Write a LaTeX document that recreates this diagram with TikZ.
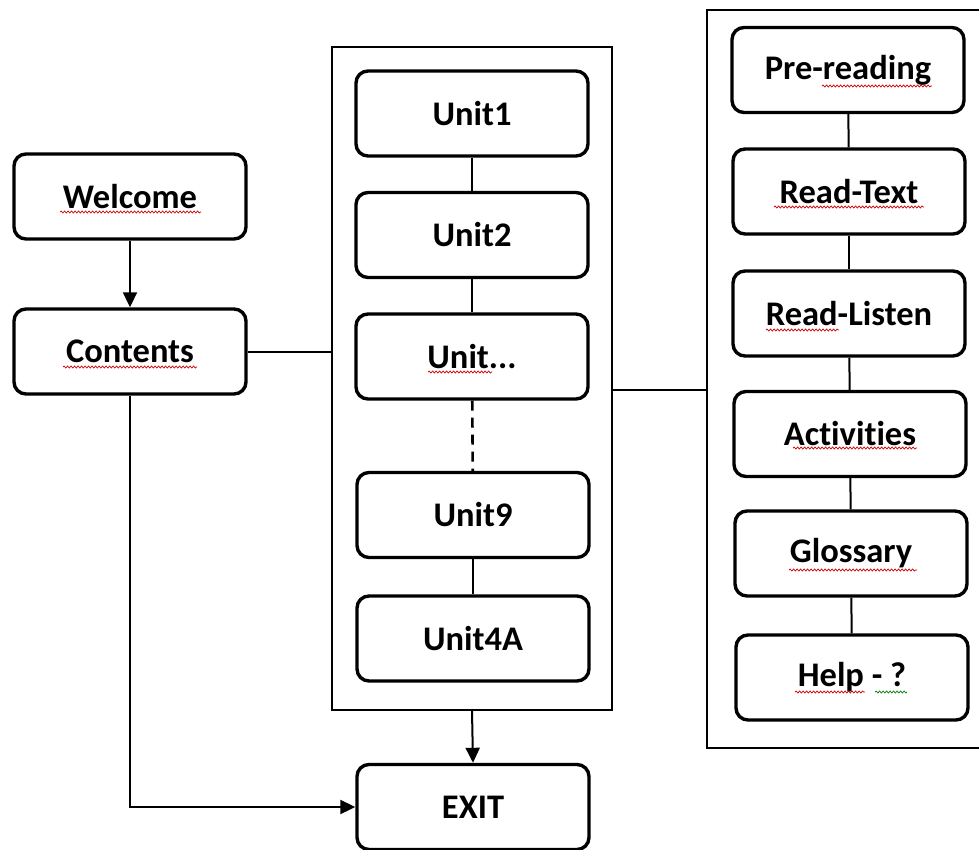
\documentclass[tikz,border=0pt]{standalone}
\usepackage{fontspec}
\setmainfont{Carlito}[Ligatures=NoCommon]
\usetikzlibrary{arrows.meta,decorations.pathmorphing}
\begin{document}
\begin{tikzpicture}[x=1pt,y=-1pt,
  box/.style={draw, line width=3.4pt, rounded corners=12pt, minimum width=232pt, minimum height=85pt,
    inner sep=0pt, fill=white, font=\fontsize{34.5}{40}\selectfont\bfseries},
  contain/.style={draw, line width=2.3pt},
  link/.style={line width=2pt},
  arr/.style={link, -{Triangle[length=15pt,width=14pt]}},
  dashlink/.style={line width=2.6pt, dash pattern=on 10pt off 7pt},
  squig/.style={red!80!black, line width=0.7pt, decorate, decoration={snake, segment length=3.5pt, amplitude=1pt}},
  squigg/.style={squig, green!50!black}]
\useasboundingbox (0,0) rectangle (979,850);

% containers
\node[contain, minimum width=280pt, minimum height=663pt, inner sep=0pt] (mid) at (472,378.5) {};
\draw[contain] (979,10) -- (707,10) -- (707,748) -- (979,748);
\coordinate (rin) at (707,390);

% left column
\node[box] (wel) at (130,196.5) {Welcome};
\node[box] (con) at (130,351.5) {Contents};

% units
\node[box] (u1) at (472,113.5) {Unit1};
\node[box] (u2) at (472,235) {Unit2};
\node[box] (u3) at (472,356.5) {Unit...};
\node[box] (u9) at (473,515) {Unit9};
\node[box] (u4) at (473,638.5) {Unit4A};
\node[box] (exit) at (473,807) {EXIT};

% right column
\node[box] (pre) at (848,70) {Pre-reading};
\node[box] (rt) at (849,191.5) {Read-Text};
\node[box] (rl) at (849,313.5) {Read-Listen};
\node[box] (act) at (850,434) {Activities};
\node[box] (glo) at (851,553.5) {Glossary};
\node[box] (help) at (852,677.5) {Help - ?};

% connectors
\draw[arr] (wel) -- (con);
\draw[link] (con.east) -- (mid.west |- con.east);
\draw[link] (mid.east |- rin) -- (rin);
\draw[link] (u1) -- (u2);
\draw[link] (u2) -- (u3);
\draw[dashlink] (u3) -- (u9);
\draw[link] (u9) -- (u4);
\draw[arr] (mid.south) -- (exit.north);
\draw[arr] (con.south) |- (exit.west);
\draw[link] (pre) -- (rt);
\draw[link] (rt) -- (rl);
\draw[link] (rl) -- (act);
\draw[link] (act) -- (glo);
\draw[link] (glo) -- (help);

% spell-check squiggles
\draw[squig] ([xshift=-70pt,yshift=-15.5pt]wel.center) -- ++(141,0);
\draw[squig] ([xshift=-67pt,yshift=-15.5pt]con.center) -- ++(134,0);
\draw[squig] ([xshift=-44pt,yshift=-15.5pt]u3.center) -- ++(64,0);
\draw[squig] ([xshift=-26pt,yshift=-16pt]pre.center) -- ++(110,0);
\draw[squig] ([xshift=-75pt,yshift=-15.5pt]rt.center) -- ++(150,0);
\draw[squig] ([xshift=-83pt,yshift=-16.5pt]rl.center) -- ++(73,0);
\draw[squig] ([xshift=-57pt,yshift=-14pt]act.center) -- ++(124,0);
\draw[squig] ([xshift=-62pt,yshift=-16.5pt]glo.center) -- ++(128,0);
\draw[squig] ([xshift=-57pt,yshift=-14.5pt]help.center) -- ++(70,0);
\draw[squigg] ([xshift=23pt,yshift=-14.5pt]help.center) -- ++(32,0);
\end{tikzpicture}
\end{document}
